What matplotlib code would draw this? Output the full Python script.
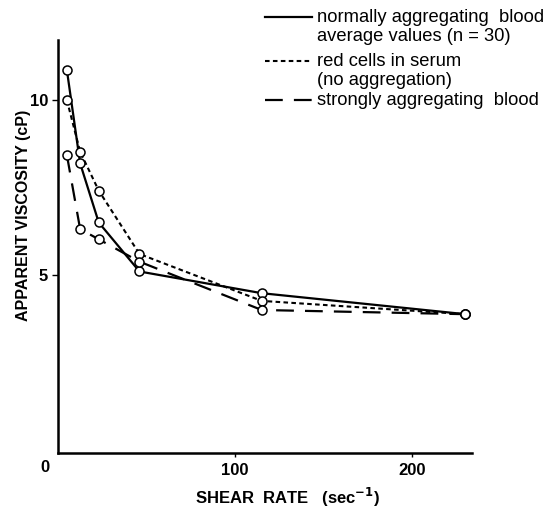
import matplotlib
matplotlib.use("Agg")
import matplotlib.pyplot as plt
from matplotlib.lines import Line2D

# ---- data ----
shear_rate = [5, 12.5, 23, 46, 115, 230]
normal_blood = [10.86, 8.19, 6.50, 5.10, 4.48, 3.88]
red_cells_serum = [10.00, 8.52, 7.41, 5.60, 4.26, 3.88]
strong_blood = [8.43, 6.31, 6.02, 5.38, 4.00, 3.88]

legend_labels = ["normally aggregating  blood\naverage values (n = 30)",
                 "red cells in serum\n(no aggregation)",
                 "strongly aggregating  blood"]
x_ticks = [100, 200]
y_ticks = [5, 10]

plt.rcParams['font.family'] = ['Liberation Sans', 'DejaVu Sans']

fig = plt.figure(figsize=(5.51, 5.12), dpi=100)
W, H = 551, 512
ax = fig.add_axes([58 / W, 1 - 453 / H, (472 - 58) / W, (453 - 40) / H])

styles = [dict(linestyle='-', lw=1.6),
          dict(linestyle=(0, (2.2, 1.6)), lw=1.5),
          dict(linestyle=(0, (8, 5)), lw=1.6)]
series = [normal_blood, red_cells_serum, strong_blood]

for vals, st in zip(series, styles):
    ax.plot(shear_rate, vals, color='black', marker='o', markersize=6.5,
            markerfacecolor='white', markeredgecolor='black', markeredgewidth=1.1,
            zorder=3, **st)

ax.set_xlim(0, 233.7)
ax.set_ylim(-0.086, 11.714)
for s in ['top', 'right']:
    ax.spines[s].set_visible(False)
for s in ['left', 'bottom']:
    ax.spines[s].set_linewidth(1.8)

ax.set_xticks(x_ticks)
ax.set_yticks(y_ticks)
ax.set_xticklabels([str(v) for v in x_ticks], fontsize=12, fontweight='bold')
ax.set_yticklabels([str(v) for v in y_ticks], fontsize=12, fontweight='bold')
ax.tick_params(axis='x', direction='out', length=3, width=1, pad=4)
ax.tick_params(axis='y', direction='out', length=4, width=1, pad=3)

# origin label
fig.text(45 / W, 1 - 468 / H, "0", fontsize=12, fontweight='bold', ha='center', va='center')

# axis labels
fig.text(288 / W, 1 - 497 / H, r"SHEAR  RATE   (sec$^{\mathbf{-1}}$)", fontsize=12,
         fontweight='bold', ha='center', va='center')
fig.text(24 / W, 1 - 215 / H, "APPARENT VISCOSITY (cP)", fontsize=11.5,
         fontweight='bold', rotation=90, ha='center', va='center')

# legend drawn manually
leg_y = [17, 61, 100]
line_step = 19
for lab, st, yy in zip(legend_labels, styles, leg_y):
    fy = 1 - yy / H
    fig.add_artist(Line2D([265 / W, 312 / W], [fy, fy], color='black', **st))
    for i, part in enumerate(lab.split("\n")):
        by = yy + 4.8 + i * line_step
        fig.text(317 / W, 1 - by / H, part, fontsize=13.2, ha='left', va='baseline')

fig.savefig("out.png", dpi=100)
